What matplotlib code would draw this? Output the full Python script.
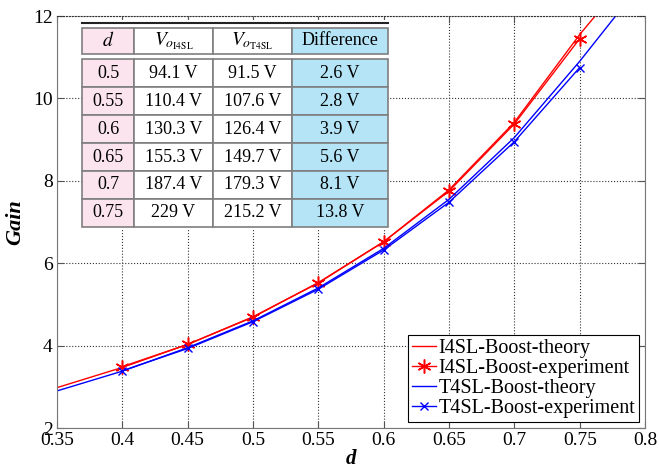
import numpy as np
import matplotlib
matplotlib.use("Agg")
import matplotlib.pyplot as plt
from matplotlib.patches import Rectangle

plt.rcParams['font.family'] = ['Liberation Serif', 'DejaVu Serif']
plt.rcParams['mathtext.fontset'] = 'stix'

# theory curves
d_theory = [0.35, 0.40, 0.45, 0.50, 0.55, 0.60, 0.65, 0.70, 0.75, 0.775]
gain_i4sl_theory = [2.98, 3.47, 4.03, 4.70, 5.52, 6.52, 7.78, 9.42, 11.55, 12.5]
d_theory_t = [0.35, 0.40, 0.45, 0.50, 0.55, 0.60, 0.65, 0.70, 0.75, 0.80]
gain_t4sl_theory = [2.90, 3.38, 3.95, 4.60, 5.40, 6.36, 7.55, 9.05, 10.90, 12.9]

# measured points
d_exp = [0.40, 0.45, 0.50, 0.55, 0.60, 0.65, 0.70, 0.75]
gain_i4sl_exp = [3.49, 4.03, 4.69, 5.53, 6.52, 7.75, 9.38, 11.45]
gain_t4sl_exp = [3.39, 3.93, 4.58, 5.37, 6.32, 7.48, 8.95, 10.75]

# table contents
tbl_d = ['0.5', '0.55', '0.6', '0.65', '0.7', '0.75']
tbl_vi4sl = ['94.1 V', '110.4 V', '130.3 V', '155.3 V', '187.4 V', '229 V']
tbl_vt4sl = ['91.5 V', '107.6 V', '126.4 V', '149.7 V', '179.3 V', '215.2 V']
tbl_diff = ['2.6 V', '2.8 V', '3.9 V', '5.6 V', '8.1 V', '13.8 V']
tbl_head = ['$d$', r'$V_{o_{\mathrm{I4SL}}}$', r'$V_{o_{\mathrm{T4SL}}}$', 'Difference']

pink = '#fbe4ee'
cyan = '#b4e4f6'

fig = plt.figure(figsize=(6.59, 4.72), dpi=100)
ax = fig.add_axes([0.0865, 0.0932, 0.8923, 0.8729])

# 6-armed asterisk like the classic '*' marker
star = (6, 2, 0)
ax.plot(d_theory, gain_i4sl_theory, '-', color='#ff0000', lw=1.0, label='I4SL-Boost-theory')
ax.plot(d_exp, gain_i4sl_exp, '-', marker=star, color='#ff0000', lw=1.0, ms=10, mew=1.1,
        label='I4SL-Boost-experiment')
ax.plot(d_theory_t, gain_t4sl_theory, '-', color='#0000ff', lw=1.0, label='T4SL-Boost-theory')
ax.plot(d_exp, gain_t4sl_exp, '-x', color='#0000ff', lw=1.0, ms=6, mew=1.0,
        label='T4SL-Boost-experiment')

ax.set_xlim(0.35, 0.8)
ax.set_ylim(2, 12)
ax.set_xticks(np.arange(0.35, 0.801, 0.05))
ax.set_xticklabels(['0.35', '0.4', '0.45', '0.5', '0.55', '0.6', '0.65', '0.7', '0.75', '0.8'])
ax.set_yticks([2, 4, 6, 8, 10, 12])
ax.tick_params(direction='in', top=True, right=True, labelsize=14, length=5,
               color='#555555', pad=3)
ax.grid(True, linestyle=':', color='#333333', linewidth=0.8)
for side in ['left', 'right', 'bottom']:
    ax.spines[side].set_color('#777777')
ax.spines['top'].set_linestyle(':')
ax.spines['top'].set_color('#333333')

ax.set_xlabel('d', fontsize=15, fontweight='bold', fontstyle='italic', labelpad=0)
ax.set_ylabel('Gain', fontsize=16, fontweight='bold', fontstyle='italic', labelpad=6)

leg = ax.legend(loc='lower right', fontsize=14.5, fancybox=False, framealpha=1,
                edgecolor='black', handlelength=1.2, handletextpad=0.1,
                borderpad=0.2, labelspacing=0.05, borderaxespad=0.3)
leg.get_frame().set_linewidth(0.8)

# table inset
x0, x1 = 0.0425, 0.563
ax.add_patch(Rectangle((x0, 0.483), x1 - x0, 0.507, transform=ax.transAxes,
                       facecolor='white', edgecolor='none', zorder=4))
ax.plot([x0, x1], [0.983, 0.983], transform=ax.transAxes, color='#222222',
        lw=1.5, zorder=5)

col_w = [52, 79, 79, 96]
col_w = [w / sum(col_w) for w in col_w]
head_colors = [[pink, 'white', 'white', cyan]]
body_rows = [[a, b, c, e] for a, b, c, e in zip(tbl_d, tbl_vi4sl, tbl_vt4sl, tbl_diff)]
body_colors = [[pink, 'white', 'white', cyan] for _ in body_rows]

head = ax.table(cellText=[tbl_head], cellColours=head_colors, colWidths=col_w,
                cellLoc='center', bbox=[x0, 0.9078, x1 - x0, 0.0638])
body = ax.table(cellText=body_rows, cellColours=body_colors, colWidths=col_w,
                cellLoc='center', bbox=[x0, 0.4879, x1 - x0, 0.4077])
for t in (head, body):
    t.auto_set_font_size(False)
    t.set_fontsize(13)
    t.set_zorder(6)
    for cell in t.get_celld().values():
        cell.set_edgecolor('#7f7f7f')
        cell.set_linewidth(1.2)
head[0, 0].get_text().set_fontsize(14)
head[0, 1].get_text().set_fontsize(14)
head[0, 2].get_text().set_fontsize(14)

fig.savefig('out.png', dpi=100)
